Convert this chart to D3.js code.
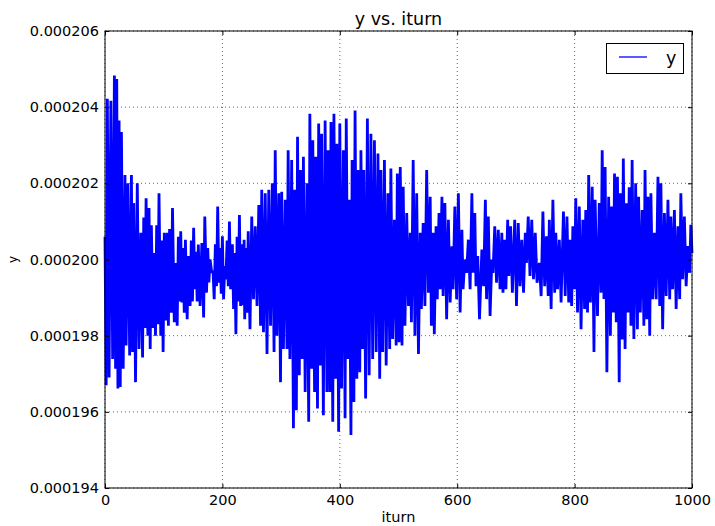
<!DOCTYPE html>
<html>
<head>
<meta charset="utf-8">
<script src="https://cdn.jsdelivr.net/npm/d3@7"></script>
<style>
  body { margin: 0; background: #fff; }
  svg { font-family: "DejaVu Sans", sans-serif; }
</style>
</head>
<body>
<div id="chart"></div>
<script>
// y values are in units of 1e-6
const peakTurn = [0, 4, 10, 16, 20, 24, 28, 34, 39, 45, 49, 55, 61, 66, 70, 75, 79, 84, 88, 92, 97, 101, 106, 110, 115, 120, 125, 129, 133, 137, 142, 147, 151, 155, 159, 165, 170, 175, 179, 184, 188, 192, 196, 200, 204, 208, 212, 217, 221, 225, 229, 233, 237, 240, 244, 250,
  256, 262, 267, 273, 279, 285, 290, 296, 301, 307, 312, 318, 323, 328, 333, 338, 344, 349, 354, 359, 364, 369, 375, 380, 385, 390, 395, 400, 406, 411, 416, 421, 426, 431, 436, 441, 447, 453, 459, 465, 470, 476, 482, 487, 493, 498,
  503, 508, 514, 520, 525, 531, 537, 542, 548, 554, 559, 564, 569, 574, 579, 585, 591, 596, 602, 608, 613, 619, 625, 630, 635, 642, 648, 653, 659, 664, 670, 676, 681, 686, 691, 698, 704, 710, 716, 721, 727, 733, 740, 746, 752,
  757, 763, 768, 774, 781, 787, 792, 797, 802, 808, 814, 819, 824, 830, 835, 842, 847, 852, 858, 863, 868, 873, 878, 883, 888, 893, 898, 904, 909, 915, 920, 925, 930, 936, 942, 947, 953, 959, 964, 970, 976, 981, 987, 993, 998];
const peakY = [200.6, 204.22, 204.17, 204.83, 204.74, 203.65, 203.35, 202.22, 202.0, 202.22, 201.48, 202.0, 200.7, 201.1, 201.61, 201.35, 200.9, 200.17, 200.9, 201.74, 200.5, 200.7, 200.7, 200.8, 201.35, 199.91, 200.6, 200.74, 200.3, 200.52, 200.09, 200.5, 200.83, 200.2, 200.39, 200.43, 201.13, 200.3, 200.0, 199.7, 200.4, 201.39, 200.3, 200.61, 199.83, 200.5, 201.0, 200.4, 200.17, 200.6, 201.17, 200.4, 200.52, 200.3, 200.74, 201.13,
  200.87, 201.43, 201.83, 201.74, 201.83, 202.0, 202.87, 201.74, 201.78, 201.57, 202.87, 202.61, 201.83, 203.22, 202.35, 202.7, 202.0, 203.83, 203.13, 202.7, 203.57, 203.3, 203.65, 202.87, 203.61, 203.83, 203.04, 203.57, 202.87, 203.7, 201.57, 202.61, 203.91, 202.35, 202.87, 202.35, 203.7, 203.3, 203.13, 202.78, 202.35, 202.61, 201.74, 202.39, 201.04, 202.26,
  202.43, 201.91, 201.22, 200.7, 202.61, 201.74, 200.7, 200.96, 202.35, 201.65, 200.7, 200.87, 201.22, 201.65, 201.48, 201.04, 200.35, 201.39, 201.74, 200.78, 200.0, 200.52, 201.74, 201.22, 200.09, 200.26, 201.57, 201.13, 200.0, 200.87, 200.78, 200.7, 200.52, 201.04, 200.87, 201.04, 200.96, 200.52, 200.7, 201.13, 201.04, 200.7, 199.91, 201.26, 200.61,
  201.04, 201.57, 200.7, 200.52, 201.26, 201.13, 200.52, 200.87, 201.61, 201.39, 201.04, 201.3, 202.22, 201.91, 201.57, 201.48, 202.87, 202.43, 201.65, 201.39, 202.26, 202.17, 201.74, 202.65, 201.48, 201.9, 202.61, 202.0, 201.65, 201.3, 202.35, 201.65, 201.74, 200.7, 202.17, 202.0, 201.22, 201.57, 201.13, 201.3, 200.87, 201.74, 201.13, 200.35, 200.91];

const troughTurn = [2, 7, 13, 18, 22, 26, 31, 36, 42, 47, 52, 58, 64, 68, 73, 77, 82, 86, 90, 95, 99, 104, 108, 113, 118, 123, 127, 131, 135, 140, 145, 149, 153, 157, 162, 168, 173, 177, 182, 186, 190, 194, 198, 202, 206, 210, 214, 219, 223, 227, 231, 235, 238, 242, 247, 253,
  259, 265, 270, 276, 282, 288, 293, 299, 304, 310, 315, 321, 326, 331, 336, 341, 347, 352, 357, 362, 367, 372, 378, 383, 388, 393, 398, 403, 409, 414, 419, 424, 429, 434, 439, 444, 450, 456, 462, 468, 473, 479, 485, 490, 496, 501,
  506, 511, 517, 522, 528, 534, 539, 545, 551, 556, 561, 566, 571, 576, 582, 588, 593, 599, 605, 610, 616, 622, 627, 632, 638, 645, 650, 656, 661, 667, 673, 678, 683, 688, 694, 701, 707, 713, 718, 724, 730, 736, 743, 749, 755,
  760, 766, 771, 777, 784, 790, 795, 800, 805, 811, 817, 822, 827, 833, 839, 845, 850, 855, 861, 866, 871, 876, 881, 886, 891, 896, 901, 907, 912, 918, 923, 928, 933, 939, 945, 950, 956, 962, 967, 973, 979, 984, 990, 996, 1000];
const troughY = [196.7, 196.9, 197.39, 197.13, 196.61, 196.65, 197.13, 197.74, 197.48, 197.57, 196.78, 197.65, 197.43, 198.2, 198.0, 197.65, 198.2, 198.0, 198.3, 198.0, 197.57, 198.4, 198.26, 198.6, 198.35, 198.26, 198.9, 198.87, 198.6, 198.43, 198.78, 198.9, 199.22, 198.9, 198.78, 198.48, 199.13, 199.4, 199.65, 198.96, 199.3, 199.39, 199.1, 198.96, 199.48, 199.3, 199.22, 198.7, 198.04, 198.9, 198.78, 198.8, 198.43, 198.6, 198.17, 198.96,
  198.78, 198.26, 198.09, 197.52, 198.26, 197.57, 198.0, 196.78, 197.65, 197.65, 197.39, 195.57, 196.04, 196.96, 197.39, 196.52, 195.74, 197.13, 196.52, 196.09, 197.22, 195.91, 196.52, 196.52, 195.74, 196.87, 195.48, 196.61, 195.83, 197.39, 195.39, 196.26, 196.87, 197.04, 197.65, 196.35, 196.96, 197.39, 197.57, 196.87, 197.57, 197.22, 197.65, 197.91, 197.74, 197.83,
  197.74, 198.26, 198.78, 198.35, 198.0, 197.52, 198.7, 198.78, 199.13, 198.26, 198.04, 198.96, 199.22, 199.04, 198.43, 198.87, 199.22, 198.96, 198.61, 199.22, 199.65, 199.22, 199.65, 199.3, 198.43, 199.3, 198.96, 198.52, 199.65, 199.39, 199.22, 199.13, 199.22, 199.57, 199.13, 198.78, 199.3, 199.13, 199.91, 199.57, 199.48, 199.39, 199.04, 199.3, 199.04,
  198.7, 199.13, 199.22, 198.87, 199.04, 198.87, 198.78, 199.22, 198.61, 198.17, 198.7, 198.61, 198.87, 197.57, 198.52, 199.13, 198.96, 197.04, 198.0, 198.61, 198.35, 196.78, 197.9, 197.65, 198.61, 198.26, 197.91, 198.17, 198.61, 198.26, 198.43, 198.0, 198.96, 198.96, 198.78, 198.17, 199.04, 198.96, 199.22, 198.7, 198.96, 199.48, 199.3, 199.65, 200.17];

const xTicks = [0, 200, 400, 600, 800, 1000];
const yTicks = [194, 196, 198, 200, 202, 204, 206];

const width = 715, height = 526;
const plotLeft = 105, plotRight = 692, plotTop = 31, plotBottom = 488;

const svg = d3.select("#chart").append("svg")
  .attr("width", width)
  .attr("height", height);

svg.append("rect").attr("width", width).attr("height", height).attr("fill", "#fff");

const x = d3.scaleLinear().domain([0, 1000]).range([plotLeft, plotRight]);
const y = d3.scaleLinear().domain([194, 206]).range([plotBottom, plotTop]);

// grid
svg.append("g").selectAll("line").data(xTicks).enter().append("line")
  .attr("x1", d => x(d)).attr("x2", d => x(d))
  .attr("y1", plotTop).attr("y2", plotBottom)
  .attr("stroke", "#000").attr("stroke-width", 0.6)
  .attr("stroke-dasharray", "1,3");
svg.append("g").selectAll("line").data(yTicks).enter().append("line")
  .attr("x1", plotLeft).attr("x2", plotRight)
  .attr("y1", d => y(d)).attr("y2", d => y(d))
  .attr("stroke", "#000").attr("stroke-width", 0.6)
  .attr("stroke-dasharray", "1,3");

// series: peaks and troughs merged in iturn order
const points = peakTurn.map((t, i) => [t, peakY[i]])
  .concat(troughTurn.map((t, i) => [t, troughY[i]]))
  .sort((a, b) => a[0] - b[0]);

const line = d3.line().x(d => x(d[0])).y(d => y(d[1]));

svg.append("path")
  .datum(points)
  .attr("d", line)
  .attr("fill", "none")
  .attr("stroke", "#0000ff")
  .attr("stroke-width", 2.8)
  .attr("stroke-linejoin", "bevel");

// axes, ticks pointing inward
const fmtY = d => (d * 1e-6).toFixed(6);

svg.append("g").attr("transform", `translate(0,${plotBottom})`)
  .call(d3.axisBottom(x).tickValues(xTicks).tickSizeInner(-4).tickSizeOuter(0).tickPadding(7).tickFormat(d3.format("d")));
svg.append("g").attr("transform", `translate(0,${plotTop})`)
  .call(d3.axisTop(x).tickValues(xTicks).tickSizeInner(-4).tickSizeOuter(0).tickFormat(""));
svg.append("g").attr("transform", `translate(${plotLeft},0)`)
  .call(d3.axisLeft(y).tickValues(yTicks).tickSizeInner(-4).tickSizeOuter(0).tickPadding(6).tickFormat(fmtY));
svg.append("g").attr("transform", `translate(${plotRight},0)`)
  .call(d3.axisRight(y).tickValues(yTicks).tickSizeInner(-4).tickSizeOuter(0).tickFormat(""));

svg.selectAll(".domain").remove();
svg.selectAll(".tick line").attr("stroke", "#000");
svg.selectAll(".tick text")
  .attr("fill", "#000")
  .style("font-family", "DejaVu Sans")
  .style("font-size", "14.5px");

// frame
svg.append("rect")
  .attr("x", plotLeft).attr("y", plotTop)
  .attr("width", plotRight - plotLeft).attr("height", plotBottom - plotTop)
  .attr("fill", "none").attr("stroke", "#000").attr("stroke-width", 1);

// title and labels
svg.append("text")
  .attr("x", (plotLeft + plotRight) / 2).attr("y", 25)
  .attr("text-anchor", "middle")
  .style("font-size", "17.5px")
  .text("y vs. iturn");

svg.append("text")
  .attr("x", (plotLeft + plotRight) / 2).attr("y", 522)
  .attr("text-anchor", "middle")
  .style("font-size", "14.5px")
  .text("iturn");

svg.append("text")
  .attr("transform", `translate(17,${(plotTop + plotBottom) / 2}) rotate(-90)`)
  .attr("text-anchor", "middle")
  .style("font-size", "12px")
  .text("y");

// legend
const legend = svg.append("g");
legend.append("rect")
  .attr("x", 606.5).attr("y", 43.5)
  .attr("width", 77).attr("height", 30)
  .attr("fill", "#fff").attr("stroke", "#000").attr("stroke-width", 1);
legend.append("line")
  .attr("x1", 619).attr("x2", 647)
  .attr("y1", 57).attr("y2", 57)
  .attr("stroke", "#0000ff").attr("stroke-width", 1.3);
legend.append("text")
  .attr("x", 666).attr("y", 64)
  .style("font-size", "17.5px")
  .text("y");
</script>
</body>
</html>
